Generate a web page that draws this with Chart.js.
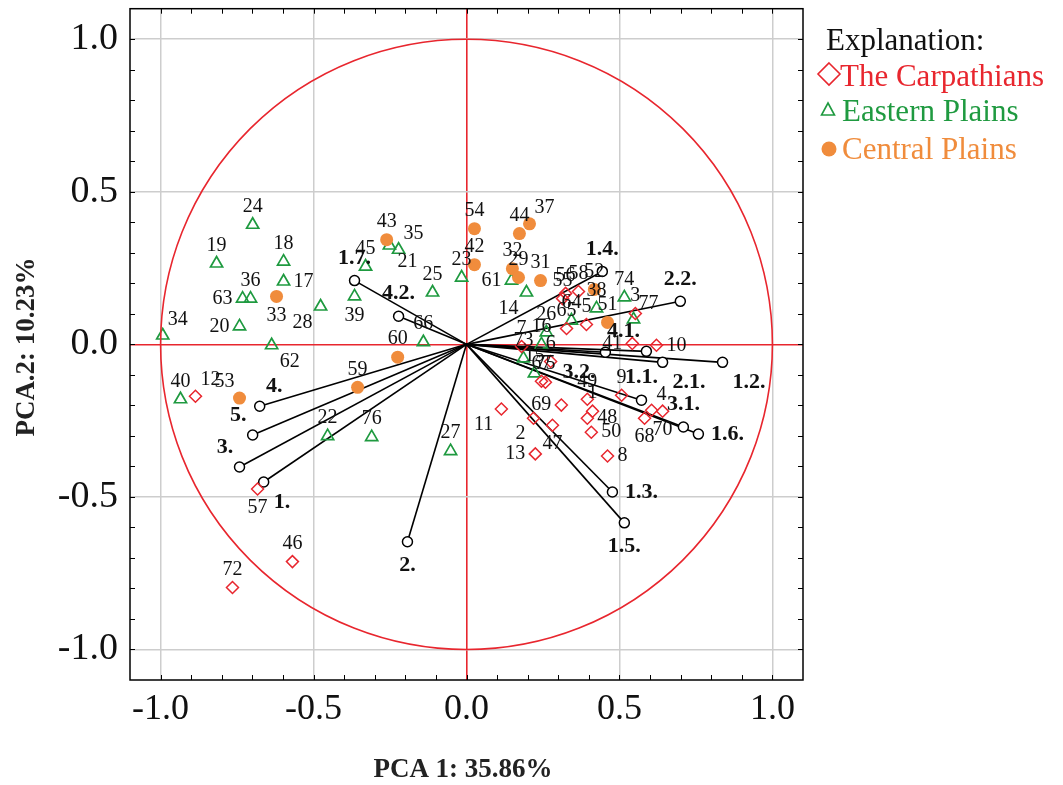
<!DOCTYPE html>
<html>
<head>
<meta charset="utf-8">
<script src="https://cdn.jsdelivr.net/npm/chart.js@4.4.1/dist/chart.umd.min.js"></script>
<style>
    html, body { margin: 0; padding: 0; background: #fff; }
    #wrap { width: 1063px; height: 785px; }
</style>
</head>
<body>
<div id="wrap"><canvas id="pcaChart" width="1063" height="785"></canvas></div>
<script>
// Stations - The Carpathians (open diamonds)
const carpIds = [72, 46, 57, 12, 11, 2, 13, 47, 69, 8, 50, 49, 1, 48, 9, 4, 68, 70, 10, 41, 3, 55, 56, 58, 65, 5, 7, 6, 67, 75];
const carpX = [-0.765, -0.569, -0.683, -0.886, 0.114, 0.219, 0.225, 0.281, 0.310, 0.461, 0.408, 0.395, 0.412, 0.395, 0.507, 0.605, 0.582, 0.641, 0.621, 0.542, 0.552, 0.314, 0.324, 0.366, 0.327, 0.392, 0.180, 0.275, 0.245, 0.258];
const carpY = [-0.797, -0.712, -0.474, -0.170, -0.212, -0.242, -0.359, -0.265, -0.199, -0.366, -0.288, -0.180, -0.219, -0.242, -0.167, -0.216, -0.242, -0.219, -0.003, 0.003, 0.101, 0.150, 0.167, 0.173, 0.052, 0.065, -0.007, -0.056, -0.121, -0.124];

// Stations - Eastern Plains (open triangles)
const eastIds = [34, 40, 19, 24, 18, 17, 63, 36, 20, 28, 62, 45, 39, 35, 21, 25, 23, 66, 22, 76, 27, 14, 61, 74, 77, 38, 64, 26, 16, 73, 15];
const eastX = [-0.993, -0.935, -0.817, -0.699, -0.598, -0.598, -0.732, -0.706, -0.742, -0.477, -0.637, -0.330, -0.366, -0.222, -0.252, -0.111, -0.016, -0.141, -0.454, -0.310, -0.052, 0.196, 0.147, 0.516, 0.546, 0.425, 0.343, 0.261, 0.245, 0.186, 0.222];
const eastY = [0.029, -0.180, 0.265, 0.392, 0.271, 0.206, 0.150, 0.150, 0.059, 0.124, -0.003, 0.255, 0.157, 0.310, 0.324, 0.170, 0.219, 0.007, -0.301, -0.304, -0.350, 0.170, 0.209, 0.154, 0.082, 0.118, 0.078, 0.039, 0.000, -0.046, -0.095];

// Stations - Central Plains (filled circles)
const centIds = [53, 33, 43, 60, 59, 54, 42, 44, 37, 32, 29, 31, 52, 51];
const centX = [-0.742, -0.621, -0.261, -0.225, -0.356, 0.026, 0.026, 0.173, 0.206, 0.150, 0.170, 0.242, 0.418, 0.461];
const centY = [-0.176, 0.157, 0.343, -0.042, -0.141, 0.379, 0.261, 0.363, 0.395, 0.248, 0.219, 0.209, 0.180, 0.072];

// Variable loadings (vectors from the origin)
const varNames = ['1.7.', '4.2.', '1.4.', '2.2.', '4.1.', '3.2.', '2.1.', '1.2.', '1.1.', '3.1.', '1.6.', '1.3.', '1.5.', '2.', '1.', '3.', '5.', '4.'];
const varX = [-0.366, -0.222, 0.444, 0.699, 0.588, 0.454, 0.641, 0.837, 0.572, 0.709, 0.758, 0.477, 0.516, -0.193, -0.663, -0.742, -0.699, -0.676];
const varY = [0.209, 0.092, 0.239, 0.141, -0.023, -0.026, -0.059, -0.059, -0.183, -0.271, -0.294, -0.484, -0.585, -0.647, -0.451, -0.402, -0.297, -0.203];

// Axis ticks
const axisTicks = [-1.0, -0.5, 0.0, 0.5, 1.0];
const axisTickLabels = ['-1.0', '-0.5', '0.0', '0.5', '1.0'];

const groupNames = ['The Carpathians', 'Eastern Plains', 'Central Plains'];

// where each label sits relative to its marker (default: above)
const labelDir = {
    34: 'ar', 17: 'r', 63: 'l', 20: 'l', 28: 'bl', 62: 'br', 39: 'b', 35: 'ar', 21: 'br',
    14: 'bl', 77: 'ar', 61: 'l', 53: 'al', 33: 'b', 37: 'ar', 57: 'b', 12: 'ar', 11: 'bl',
    2: 'bl', 13: 'l', 47: 'b', 69: 'l', 8: 'r', 50: 'r', 48: 'r', 4: 'ar', 68: 'b', 70: 'b',
    10: 'r', 41: 'l',
    '4.1.': 'al', '3.2.': 'bl', '2.1.': 'br', '1.2.': 'br', '1.6.': 'r', '1.3.': 'r',
    '1.5.': 'b', '2.': 'b', '1.': 'br', '3.': 'al', '5.': 'al', '4.': 'ar'
};

const RED = '#e8262e';
const GREEN = '#1f9a40';
const ORANGE = '#f08c3c';
const SERIF = '"Liberation Serif", "DejaVu Serif", serif';

function toPoints(xs, ys) {
    return xs.map((v, i) => ({ x: v, y: ys[i] }));
}

function gridColor(v) {
    if (v === undefined) return 'rgba(0,0,0,0)';
    if (Math.abs(v) < 1e-9) return RED;
    if (axisTicks.some(t => Math.abs(t - v) < 1e-6)) return '#cdcdcd';
    return 'rgba(0,0,0,0)';
}

function tickText(v) {
    const i = axisTicks.findIndex(t => Math.abs(t - v) < 1e-6);
    return i >= 0 ? axisTickLabels[i] : '';
}

function putLabel(ctx, txt, px, py, dir, k) {
    const o = {
        a: [0, -18, 'center'], b: [0, 19, 'center'],
        l: [-10, 0, 'right'], r: [10, 0, 'left'],
        ar: [5, -16, 'left'], al: [-5, -16, 'right'],
        br: [8, 16, 'left'], bl: [-8, 16, 'right']
    }[dir];
    ctx.textAlign = o[2];
    ctx.textBaseline = 'middle';
    ctx.fillText(txt, px + o[0] * k, py + o[1] * k);
}

const vectorSets = varNames.map((n, i) => ({
    label: n,
    data: [{ x: 0, y: 0 }, { x: varX[i], y: varY[i] }],
    showLine: true,
    borderColor: '#000',
    borderWidth: 1.6,
    pointRadius: [0, 5],
    pointBackgroundColor: '#fff',
    pointBorderColor: '#000',
    pointBorderWidth: 1.5,
    order: 5
}));

const labelPlugin = {
    id: 'pcaLabels',
    afterDatasetsDraw(chart) {
        const { ctx, scales: { x, y } } = chart;
        ctx.save();
        ctx.fillStyle = '#111';
        ctx.font = '20px ' + SERIF;
        [[carpIds, carpX, carpY], [eastIds, eastX, eastY], [centIds, centX, centY]].forEach(([ids, xs, ys]) => {
            ids.forEach((id, i) => {
                putLabel(ctx, String(id), x.getPixelForValue(xs[i]), y.getPixelForValue(ys[i]), labelDir[id] || 'a', 1);
            });
        });
        ctx.font = 'bold 22px ' + SERIF;
        varNames.forEach((n, i) => {
            putLabel(ctx, n, x.getPixelForValue(varX[i]), y.getPixelForValue(varY[i]), labelDir[n] || 'a', 1.25);
        });
        ctx.restore();
    }
};

const framePlugin = {
    id: 'frame',
    afterDraw(chart) {
        const { ctx, chartArea: a, scales: { x, y } } = chart;
        ctx.save();

        // the unit circle
        const cx = x.getPixelForValue(0), cy = y.getPixelForValue(0);
        const rx = x.getPixelForValue(1) - cx, ry = cy - y.getPixelForValue(1);
        ctx.beginPath();
        ctx.ellipse(cx, cy, rx, ry, 0, 0, Math.PI * 2);
        ctx.strokeStyle = RED;
        ctx.lineWidth = 1.6;
        ctx.stroke();

        // box with inward ticks
        ctx.strokeStyle = '#000';
        ctx.lineWidth = 1.5;
        ctx.strokeRect(a.left, a.top, a.right - a.left, a.bottom - a.top);
        ctx.lineWidth = 1;
        ctx.beginPath();
        x.ticks.forEach(t => {
            const px = Math.round(x.getPixelForValue(t.value)) + 0.5;
            ctx.moveTo(px, a.bottom); ctx.lineTo(px, a.bottom - 5);
            ctx.moveTo(px, a.top); ctx.lineTo(px, a.top + 5);
        });
        y.ticks.forEach(t => {
            const py = Math.round(y.getPixelForValue(t.value)) + 0.5;
            ctx.moveTo(a.left, py); ctx.lineTo(a.left + 5, py);
            ctx.moveTo(a.right, py); ctx.lineTo(a.right - 5, py);
        });
        ctx.stroke();

        // axis titles
        ctx.fillStyle = '#222';
        ctx.font = 'bold 27px ' + SERIF;
        ctx.textAlign = 'center';
        ctx.textBaseline = 'middle';
        ctx.fillText('PCA 1: 35.86%', 463, 770);
        ctx.save();
        ctx.translate(27, 347);
        ctx.rotate(-Math.PI / 2);
        ctx.fillText('PCA.2: 10.23%', 0, 0);
        ctx.restore();

        // legend
        ctx.textAlign = 'left';
        ctx.textBaseline = 'alphabetic';
        ctx.font = '31px ' + SERIF;
        ctx.fillStyle = '#111';
        ctx.fillText('Explanation:', 826, 50);

        ctx.fillStyle = RED;
        ctx.fillText(groupNames[0], 840, 86);
        ctx.strokeStyle = RED;
        ctx.lineWidth = 1.6;
        ctx.beginPath();
        ctx.moveTo(829, 63); ctx.lineTo(840, 74); ctx.lineTo(829, 85); ctx.lineTo(818, 74); ctx.closePath();
        ctx.stroke();

        ctx.fillStyle = GREEN;
        ctx.fillText(groupNames[1], 842, 121);
        ctx.strokeStyle = GREEN;
        ctx.beginPath();
        ctx.moveTo(828, 103); ctx.lineTo(834.5, 115); ctx.lineTo(821.5, 115); ctx.closePath();
        ctx.stroke();

        ctx.fillStyle = ORANGE;
        ctx.fillText(groupNames[2], 842, 159);
        ctx.beginPath();
        ctx.arc(829, 149, 7.5, 0, Math.PI * 2);
        ctx.fill();

        ctx.restore();
    }
};

const axisOpts = (isX) => ({
    type: 'linear',
    min: -1.1,
    max: 1.1,
    afterBuildTicks: s => {
        s.ticks = [];
        for (let i = -10; i <= 10; i++) s.ticks.push({ value: i / 10 });
    },
    afterFit: s => {
        if (isX) {
            s.height = 105;
            s.paddingLeft = 0; s.paddingRight = 0;
        } else {
            s.width = 130;
            s.paddingTop = 0; s.paddingBottom = 0;
        }
    },
    ticks: {
        autoSkip: false,
        maxRotation: 0,
        padding: isX ? 8 : 12,
        color: '#111',
        font: { family: SERIF, size: isX ? 36 : 38 },
        callback: v => tickText(v)
    },
    grid: {
        drawTicks: false,
        color: c => gridColor(c.tick ? c.tick.value : undefined),
        lineWidth: c => (c.tick && Math.abs(c.tick.value) < 1e-9) ? 1.6 : 1.5
    },
    border: { display: false }
});

new Chart(document.getElementById('pcaChart'), {
    type: 'scatter',
    data: {
        datasets: [
            {
                label: groupNames[0],
                data: toPoints(carpX, carpY),
                pointStyle: 'rectRot',
                pointRadius: 6,
                pointBorderWidth: 1.5,
                pointBorderColor: RED,
                pointBackgroundColor: 'rgba(255,255,255,0)',
                order: 1
            },
            {
                label: groupNames[1],
                data: toPoints(eastX, eastY),
                pointStyle: 'triangle',
                pointRadius: 7,
                pointBorderWidth: 1.7,
                pointBorderColor: GREEN,
                pointBackgroundColor: 'rgba(255,255,255,0)',
                order: 1
            },
            {
                label: groupNames[2],
                data: toPoints(centX, centY),
                pointStyle: 'circle',
                pointRadius: 6.5,
                pointBorderWidth: 0,
                pointBorderColor: ORANGE,
                pointBackgroundColor: ORANGE,
                order: 0
            },
            ...vectorSets
        ]
    },
    options: {
        responsive: false,
        animation: false,
        events: [],
        layout: { padding: { left: 0, top: 8, right: 260, bottom: 0 } },
        plugins: {
            legend: { display: false },
            tooltip: { enabled: false }
        },
        scales: {
            x: axisOpts(true),
            y: axisOpts(false)
        }
    },
    plugins: [labelPlugin, framePlugin]
});
</script>
</body>
</html>
